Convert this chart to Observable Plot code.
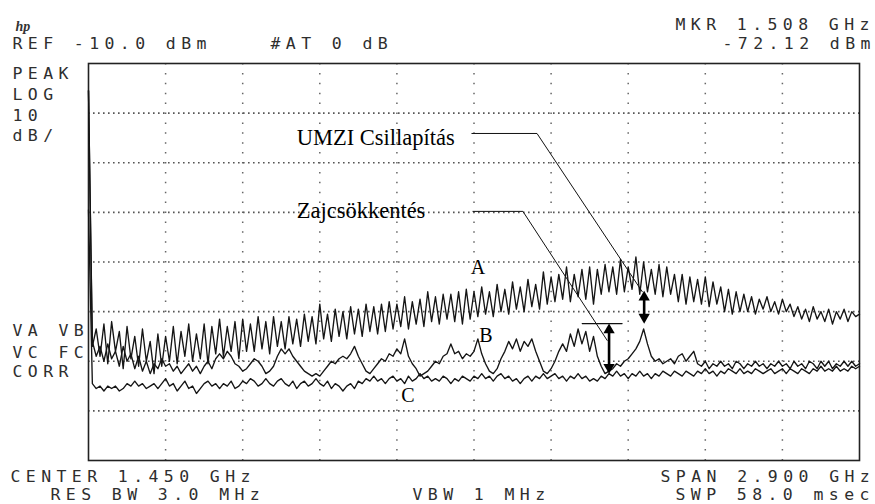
<!DOCTYPE html>
<html>
<head>
<meta charset="utf-8">
<script src="https://cdn.jsdelivr.net/npm/d3@7"></script>
<script src="https://cdn.jsdelivr.net/npm/@observablehq/plot@0.6"></script>
<style>
  html, body { margin: 0; padding: 0; background: #fff; }
  #chart svg { display: block; }
</style>
</head>
<body>
<div id="chart"></div>
<script>
// ---- Sweep definition (spectrum analyser) ----
const startGHz = 0;
const spanGHz = 2.9;
const refLevel = -10;      // dBm, top of screen
const bottomLevel = -90;   // dBm, bottom of screen (10 dB/div, 8 div)

// Grid lines (graticule)
const xGridGHz = [0.29, 0.58, 0.87, 1.16, 1.45, 1.74, 2.03, 2.32, 2.61];
const yGridDbm = [-20, -30, -40, -50, -60, -70, -80];

// ---- Trace A (dBm), 201 sweep points ----
const traceA = [
  -15.5, -67, -63.5, -69, -62.5, -70.5, -62, -68, -64, -71.5,
  -63, -69.5, -65, -71, -63.5, -70, -66, -72.5, -64.5, -71,
  -65, -70, -63, -70.5, -64, -69, -62.5, -70, -64.5, -69.5,
  -62.5, -70.5, -63, -68.5, -61.5, -69, -63, -68, -62, -69.5,
  -61.5, -68, -62.5, -68, -61, -67.5, -62, -68.5, -61, -67,
  -62, -67.5, -61, -66.5, -61.5, -67, -60.5, -66, -61, -66.5,
  -58.5, -65.5, -60.5, -66, -59.5, -65, -60, -65.5, -59, -64.5,
  -59.5, -65, -58.5, -64, -59, -64.5, -58.5, -64, -58, -63.5,
  -58.5, -63, -57, -63.5, -58, -62.5, -57.5, -63, -56, -62,
  -57, -62.5, -56.5, -61.5, -56.5, -62, -56, -62.5, -55.5, -61.5,
  -56, -61, -55, -60.5, -56, -61, -54.5, -60, -55.5, -60.5,
  -54, -59.5, -55, -60, -53.5, -59, -54.5, -59.5, -52, -58.5,
  -53, -58, -52.5, -57.5, -51, -58, -52.5, -57, -51.5, -57.5,
  -51, -58.5, -51.5, -56.5, -50.5, -56, -51, -56.5, -49.5, -56,
  -51, -55.5, -49, -56.5, -50, -56, -51.5, -56.5, -50.5, -57,
  -51, -56.5, -52.5, -58, -52.5, -58.5, -53, -58, -53.5, -58.5,
  -53, -59, -54, -58.5, -55, -60, -55.5, -60.5, -56, -60,
  -56.5, -60, -57, -60.5, -57.5, -59.5, -57, -60, -58, -60.5,
  -57.5, -60, -58.5, -61, -59, -61.5, -59.5, -62, -59, -61.5,
  -60, -62, -59.5, -62.5, -60, -61.5, -59.5, -62, -60, -61,
  -60.5
];

// ---- Trace B (dBm) ----
const traceB = [
  -15.5, -66, -69, -67, -70, -66.5, -69.5, -68, -71, -67,
  -70, -68.5, -71.5, -69, -72, -70, -72.5, -70.5, -71.5, -69.5,
  -71, -70.5, -72, -71, -72.5, -71.5, -70.5, -72, -71, -72.5,
  -71, -70, -71.5, -69.5, -68.5, -69.5, -68, -69, -70.5, -71,
  -72, -71.5, -70.5, -69.5, -70, -71, -72.5, -72, -71, -69,
  -67.5, -68.5, -67.5, -69, -70, -71, -72, -72.5, -73, -72.5,
  -73, -72, -71, -70, -70.5, -69.5, -69, -69.5, -68.5, -67,
  -69, -70.5, -72, -72.5, -71.5, -70.5, -69.5, -70, -68.5, -69,
  -67.5, -68.5, -65.5, -69, -70.5, -71.5, -73, -72.5, -72, -71,
  -70, -70.5, -69, -68.5, -66.5, -68.5, -68, -69.5, -68.5, -69,
  -68, -65.5, -68.5, -70.5, -72, -72.5, -71.5, -69.5, -68, -66,
  -67.5, -65.5, -68, -66, -67, -65.5, -68, -70, -72, -72.5,
  -71.5, -70, -68, -66.5, -68, -64.5, -67, -63.5, -66.5, -64,
  -68, -65, -69, -71, -72.5, -72, -71.5, -70.5, -71, -70,
  -69.5, -68.5, -67.5, -66, -63.5, -66.5, -69, -70, -69.5, -70.5,
  -70, -69.5, -70.5, -69, -68.5, -70, -69, -68, -70.5, -71,
  -70, -71.5, -70.5, -71, -70, -71, -70.5, -71.5, -70, -70.5,
  -71.5, -70.5, -71, -70, -71, -70.5, -71.5, -70.5, -71, -70,
  -71, -70.5, -71.5, -70, -71, -70.5, -71.5, -70, -70.5, -71.5,
  -70, -71, -70, -71.5, -70.5, -71, -70, -71, -70, -71,
  -70.5
];

// ---- Trace C (dBm) ----
const traceC = [
  -39.5, -74.5, -75.5, -75, -76, -75, -75.5, -75, -76, -75.5,
  -74.5, -75, -74, -75, -74.5, -75.5, -75, -74.5, -75.5, -74.5,
  -73.5, -75, -74.5, -76, -75, -74, -75.5, -75, -76.5, -75.5,
  -74.5, -74, -75, -74.5, -75.5, -74.5, -75, -74, -75.5, -75,
  -74, -74.5, -73.5, -74, -75, -74.5, -73.5, -74.5, -75, -74,
  -73.5, -74.5, -75, -74, -75.5, -74.5, -74, -75, -74.5, -73.5,
  -74.5, -75, -74, -75.5, -74.5, -75, -76, -75, -74.5, -75.5,
  -74, -74.5, -73.5, -74, -73, -74, -73.5, -74.5, -73.5, -73,
  -74, -73.5, -74.5, -73, -74, -73.5, -72.5, -73.5, -73, -74,
  -73.5, -74, -73, -73.5, -74.5, -73.5, -74, -73, -73.5, -74,
  -73, -73.5, -72.5, -73.5, -73, -74, -73, -72.5, -73.5, -73,
  -74, -73.5, -74.5, -73.5, -73, -74, -73, -73.5, -72.5, -73.5,
  -73, -72.5, -73.5, -73, -74, -73, -73.5, -72.5, -73.5, -73,
  -74, -73.5, -74, -73, -73.5, -72.5, -73, -72, -73, -72.5,
  -73.5, -72.5, -73, -72, -73, -72.5, -73.5, -72.5, -73, -72,
  -72.5, -73, -72, -72.5, -73, -72, -72.5, -73, -72, -72.5,
  -71.5, -72.5, -72, -73, -72, -72.5, -71.5, -72, -72.5, -71.5,
  -72.5, -72, -72.5, -71.5, -72, -72.5, -72, -71.5, -72.5, -72,
  -71.5, -72.5, -71.5, -72, -72.5, -71.5, -72, -72.5, -71.5, -72,
  -71, -72, -71.5, -72, -71, -72, -71.5, -72, -71, -71.5,
  -71
];

// ---- Annotations (GHz, dBm) ----
const traceLabels = [
  { f: 1.465, dbm: -51.1, text: "A" },
  { f: 1.495, dbm: -64.8, text: "B" },
  { f: 1.201, dbm: -76.9, text: "C" }
];
const calloutTexts = [
  { f: 0.783, dbm: -24.9, text: "UMZI Csillapítás" },
  { f: 0.783, dbm: -39.6, text: "Zajcsökkentés" }
];
const leaderUmzi = [
  { f: 1.442, dbm: -24.1 }, { f: 1.687, dbm: -24.1 }, { f: 2.083, dbm: -56.0 }
];
const leaderZaj = [
  { f: 1.446, dbm: -39.8 }, { f: 1.634, dbm: -39.8 }, { f: 1.951, dbm: -65.8 }
];
const refLineZaj = [
  { f: 1.857, dbm: -62.4 }, { f: 2.007, dbm: -62.4 }
];
const arrows = [
  { f: 2.090, top: -55.8, bottom: -62.4 },
  { f: 1.958, top: -62.4, bottom: -72.5 }
];

// ---- Screen annotation texts (offsets from the graticule's top-left corner) ----
const screenTexts = [
  { text: "REF -10.0 dBm", dx: -76, dy: -15 },
  { text: "#AT 0 dB", dx: 182, dy: -15 },
  { text: "MKR 1.508 GHz", dx: 587, dy: -34 },
  { text: "-72.12 dBm", dx: 634, dy: -15 },
  { text: "PEAK", dx: -76, dy: 15 },
  { text: "LOG", dx: -76, dy: 36 },
  { text: "10", dx: -76, dy: 57 },
  { text: "dB/", dx: -76, dy: 77 },
  { text: "VA VB", dx: -76, dy: 272 },
  { text: "VC FC", dx: -76, dy: 294 },
  { text: "CORR", dx: -76, dy: 313 },
  { text: "CENTER 1.450 GHz", dx: -78, dy: 418 },
  { text: "SPAN 2.900 GHz", dx: 572, dy: 418 },
  { text: "RES BW 3.0 MHz", dx: -38, dy: 436 },
  { text: "VBW 1 MHz", dx: 324, dy: 436 },
  { text: "SWP 58.0 msec", dx: 587, dy: 436 }
];

// Build sweep table
const n = traceA.length;
const sweep = (vals, name) => vals.map((v, i) => ({ f: startGHz + i * spanGHz / (n - 1), dbm: v, trace: name }));
const rows = [...sweep(traceA, "A"), ...sweep(traceB, "B"), ...sweep(traceC, "C")];

const MONO = "DejaVu Sans Mono";
const SERIF = "Liberation Serif";

const screenMarks = screenTexts.map(t => Plot.text([t], {
  frameAnchor: "top-left", dx: t.dx, dy: t.dy, text: d => d.text,
  textAnchor: "start", lineAnchor: "bottom", fontFamily: MONO, fontSize: 16.5, fill: "#2e2e2e"
}));

const chart = Plot.plot({
  width: 875,
  height: 504,
  marginLeft: 88,
  marginRight: 16,
  marginTop: 63,
  marginBottom: 44,
  x: { domain: [startGHz, startGHz + spanGHz], axis: null },
  y: { domain: [bottomLevel, refLevel], axis: null },
  style: { background: "#fff", overflow: "visible" },
  marks: [
    Plot.ruleY(yGridDbm, { stroke: "#555", strokeWidth: 1.6, strokeDasharray: "1.6,3.4" }),
    Plot.ruleX(xGridGHz, { stroke: "#666", strokeWidth: 1.5, strokeDasharray: "1.5,8.4" }),
    Plot.frame({ stroke: "#222", strokeWidth: 1.6 }),
    Plot.line(rows, { x: "f", y: "dbm", z: "trace", stroke: "#151515", strokeWidth: 1.35, curve: "linear" }),
    // leader lines
    Plot.line(leaderUmzi, { x: "f", y: "dbm", stroke: "#111", strokeWidth: 1 }),
    Plot.line(leaderZaj, { x: "f", y: "dbm", stroke: "#111", strokeWidth: 1 }),
    Plot.line(refLineZaj, { x: "f", y: "dbm", stroke: "#111", strokeWidth: 1.2 }),
    // arrows: shaft + filled heads
    Plot.ruleX(arrows, { x: "f", y1: d => d.top, y2: d => d.bottom, stroke: "#000", strokeWidth: 2.6, insetTop: 5, insetBottom: 5 }),
    Plot.dot(arrows, { x: "f", y: "top", symbol: "triangle", r: 4.2, fill: "#000", stroke: "none", dy: 6.4 }),
    Plot.dot(arrows, { x: "f", y: "bottom", symbol: "triangle", r: 4.2, fill: "#000", stroke: "none", rotate: 180, dy: -6.4 }),
    // labels
    Plot.text(traceLabels, { x: "f", y: "dbm", text: "text", fontFamily: SERIF, fontSize: 20, fill: "#000", textAnchor: "middle" }),
    Plot.text(calloutTexts, { x: "f", y: "dbm", text: "text", fontFamily: SERIF, fontSize: 22.5, fill: "#000", textAnchor: "start" }),
    // hp logo
    Plot.text(["hp"], { frameAnchor: "top-left", dx: -73, dy: -33, text: d => d, textAnchor: "start", lineAnchor: "bottom",
      fontFamily: SERIF, fontStyle: "italic", fontWeight: "bold", fontSize: 14, fill: "#333" }),
    ...screenMarks
  ]
});

document.getElementById("chart").appendChild(chart);
chart.querySelectorAll('g[font-family="' + MONO + '"]').forEach(g => g.setAttribute("letter-spacing", "5.4"));
</script>
</body>
</html>
